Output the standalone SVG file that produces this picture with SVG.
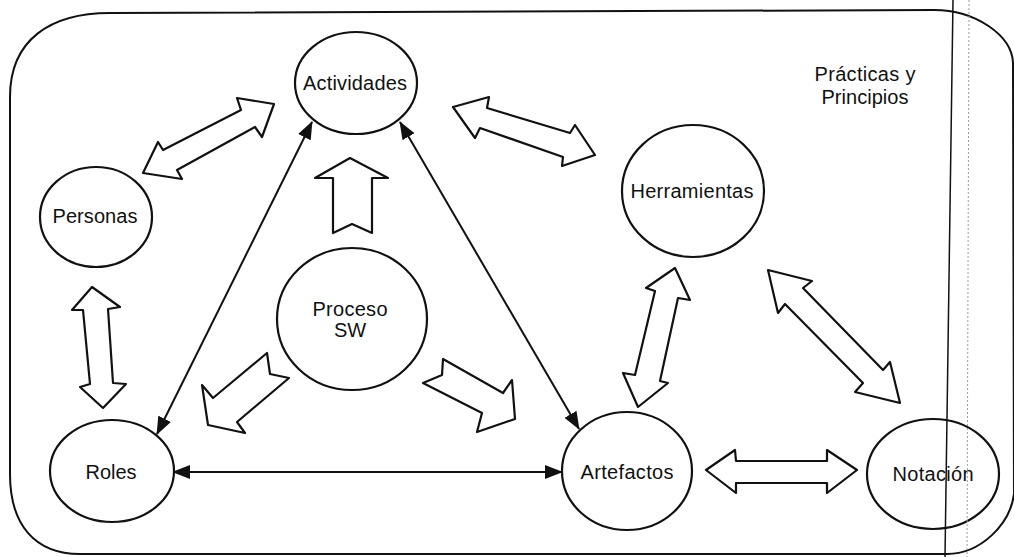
<svg xmlns="http://www.w3.org/2000/svg" width="1014" height="557" viewBox="0 0 1014 557">
  <style>
    .frame { fill: none; stroke: #111; stroke-width: 2; }
    .node { fill: #fff; stroke: #111; stroke-width: 2.2; }
    .label { font-family: "Liberation Sans", Arial, sans-serif; font-size: 20px; fill: #111; text-anchor: middle; }
    .link { fill: none; stroke: #111; stroke-width: 2; marker-start: url(#head); marker-end: url(#head); }
    .block { fill: #fff; stroke: #111; stroke-width: 2.2; stroke-linejoin: round; }
  </style>
  <defs>
    <marker id="head" viewBox="0 0 18 14" refX="17" refY="7" markerWidth="18" markerHeight="14" markerUnits="userSpaceOnUse" orient="auto-start-reverse">
      <path d="M0,0 L18,7 L0,14 Z" fill="#111"/>
    </marker>
  </defs>

  <rect width="1014" height="557" fill="#fff"/>

  <!-- page frame -->
  <path class="frame" d="M10,97 C10,40 50,13 110,13 L934,10 C975,10 1012,35 1013,63 L1014,494 C1010,525 980,554 947,554 L80,554 C35,554 10,525 10,474 Z"/>

  <!-- connectors -->
  <g id="connectors">
    <line class="link" x1="312" y1="122" x2="157" y2="434"/>
    <line class="link" x1="400" y1="122" x2="579" y2="429"/>
    <line class="link" x1="173" y1="472" x2="562" y2="472"/>
    <polygon class="block" points="274,104 262,137 255,127 177,170 182,179 143,173 158,142 163,150 241,110 237,98"/>
    <polygon class="block" points="453,107 489,97 487,108 570,133 575,125 595,155 562,166 563,157 480,128 475,138"/>
    <polygon class="block" points="350,158 388,178 372,178 372,233 352,224 333,233 333,178 315,178"/>
    <polygon class="block" points="267,353 270,374 289,378 237,422 245,433 208,425 202,385 213,398"/>
    <polygon class="block" points="443,359 442,375 423,383 482,413 477,432 515,419 512,380 503,393"/>
    <polygon class="block" points="92,287 120,307 108,309 113,383 126,384 103,408 80,387 90,384 83,310 72,310"/>
    <polygon class="block" points="675,268 690,300 678,298 660,381 668,383 638,407 623,373 635,375 655,291 646,288"/>
    <polygon class="block" points="768,270 812,281 803,288 883,370 890,362 900,403 855,392 863,383 785,304 778,313"/>
    <polygon class="block" points="706,470 735,450 736,461 827,461 827,450 857,470 827,493 827,483 736,483 736,493"/>
  </g>

  <!-- nodes -->
  <g id="actividades">
    <ellipse class="node" cx="356" cy="83" rx="61" ry="51"/>
    <text class="label" x="355" y="90" textLength="104" lengthAdjust="spacing">Actividades</text>
  </g>
  <g id="personas">
    <ellipse class="node" cx="96" cy="217" rx="56" ry="50"/>
    <text class="label" x="95" y="223" textLength="85" lengthAdjust="spacing">Personas</text>
  </g>
  <g id="herramientas">
    <ellipse class="node" cx="693" cy="191" rx="71" ry="66"/>
    <text class="label" x="692" y="198" textLength="123" lengthAdjust="spacing">Herramientas</text>
  </g>
  <g id="proceso-sw">
    <ellipse class="node" cx="352" cy="319" rx="75" ry="71"/>
    <text class="label" x="350" y="316" textLength="75" lengthAdjust="spacing">Proceso</text>
    <text class="label" x="350" y="337">SW</text>
  </g>
  <g id="roles">
    <ellipse class="node" cx="112" cy="471" rx="62" ry="51"/>
    <text class="label" x="111" y="479" textLength="51" lengthAdjust="spacing">Roles</text>
  </g>
  <g id="artefactos">
    <ellipse class="node" cx="627" cy="471" rx="65" ry="59"/>
    <text class="label" x="627" y="479" textLength="93" lengthAdjust="spacing">Artefactos</text>
  </g>
  <g id="notacion">
    <ellipse class="node" cx="933" cy="474" rx="66" ry="55"/>
    <text class="label" x="933" y="481" textLength="81" lengthAdjust="spacing">Notación</text>
  </g>
  <g id="practicas">
    <text class="label" x="865" y="81" textLength="101" lengthAdjust="spacing">Prácticas y</text>
    <text class="label" x="865" y="104" textLength="87" lengthAdjust="spacing">Principios</text>
  </g>

  <!-- page edge lines running over everything -->
  <line x1="953" y1="0" x2="945" y2="557" stroke="#111" stroke-width="1.5"/>
  <line x1="969" y1="0" x2="967" y2="557" stroke="#999" stroke-width="1" stroke-dasharray="2 2"/>
</svg>
